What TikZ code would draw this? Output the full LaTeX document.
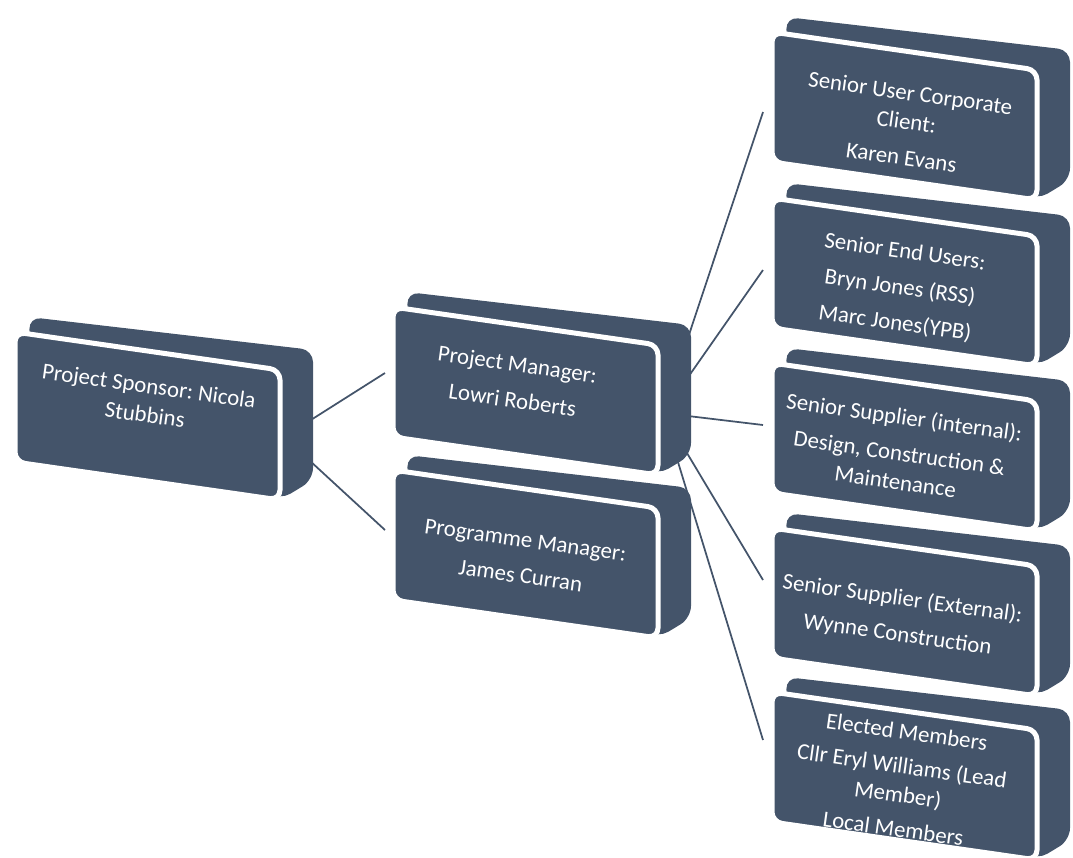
\documentclass[tikz,border=0pt]{standalone}
\usepackage{fontspec}
\setmainfont{Carlito}
\frenchspacing
\definecolor{slate}{HTML}{44546A}
\tikzset{
  backface/.style={fill=slate, rounded corners=2.4mm},
  frontface/.style={fill=slate, draw=white, line width=1mm, rounded corners=2mm},
  boxtext/.style={text=white, align=center, rotate=-8, font=\fontsize{13}{16.5}\selectfont},
  link/.style={draw=slate, line width=0.35mm}
}
% #1,#2: top left corner of the front face (in px)
\newcommand{\orgbox}[2]{%
  \fill[backface] (#1+15,#2+12) -- (#1+14,#2-15) -- (#1+298,#2+18) -- (#1+298,#2+148) -- (#1+265,#2+168) -- cycle;
  \draw[frontface] (#1,#2) -- (#1+265,#2+38) -- (#1+265,#2+168) -- (#1,#2+130) -- cycle;
}
\begin{document}
\begin{tikzpicture}[x=0.2mm,y=-0.2mm]
  \useasboundingbox (0,0) rectangle (1073,858);

  % blocks
  \orgbox{15}{332}
  \orgbox{393}{307}
  \orgbox{393}{470}
  \orgbox{772}{32}
  \orgbox{772}{198}
  \orgbox{772}{363}
  \orgbox{772}{528}
  \orgbox{772}{692}

  \node[boxtext] (sponsor) at (147,400) {Project Sponsor: Nicola\\Stubbins};
  \node[boxtext] (pm) at (515,382) {Project Manager:\\[4pt]Lowri Roberts};
  \node[boxtext] (prog) at (523,558) {Programme Manager:\\[4pt]James Curran};
  \node[boxtext] (suc) at (906,125) {Senior User Corporate\\Client:\\[4pt]Karen Evans};
  \node[boxtext] (seu) at (900,288) {Senior End Users:\\[4pt]Bryn Jones (RSS)\\[4pt]Marc Jones(YPB)};
  \node[boxtext] (ssi) at (900,449) {Senior Supplier (internal):\\[4pt]Design, Construction \&\\Maintenance};
  \node[boxtext] (sse) at (900,617) {Senior Supplier (External):\\[4pt]Wynne Construction};
  \node[boxtext] (em) at (900,780) {Elected Members\\[3pt]Cllr Eryl Williams (Lead\\Member)\\[3pt]Local Members};

  % connector ends
  \coordinate (sponsor-hub) at (284,437);
  \coordinate (pm-in) at (385,373);
  \coordinate (prog-in) at (385,530);
  \coordinate (pm-hub) at (663,413);
  \coordinate (suc-in) at (763,112);
  \coordinate (seu-in) at (763,270);
  \coordinate (ssi-in) at (763,425);
  \coordinate (sse-in) at (763,580);
  \coordinate (em-in) at (763,740);

  \draw[link] (sponsor-hub) -- (pm-in);
  \draw[link] (sponsor-hub) -- (prog-in);
  \foreach \t in {suc,seu,ssi,sse,em}
    \draw[link] (pm-hub) -- (\t-in);
\end{tikzpicture}
\end{document}
